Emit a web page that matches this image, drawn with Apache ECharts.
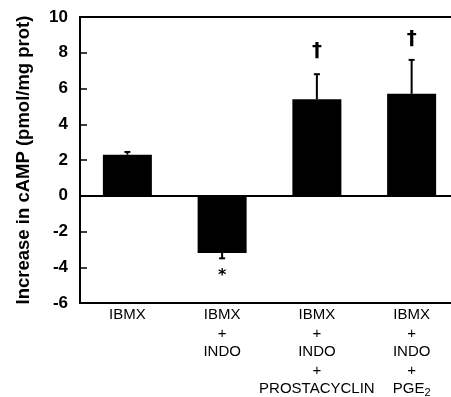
<!DOCTYPE html>
<html>
<head>
    <meta charset="utf-8">
    <script src="https://cdn.jsdelivr.net/npm/echarts@6/dist/echarts.min.js"></script>
</head>
<body style="margin:0;background:#fff">
    <div id="container" style="width:451px;height:397px"></div>
    <script type="text/javascript">
        // categories and values
        var categories = ['IBMX', 'IBMX+INDO', 'IBMX+INDO+PROSTACYCLIN', 'IBMX+INDO+PGE2'];
        var categoryLabels = [
            'IBMX',
            'IBMX\n+\nINDO',
            'IBMX\n+\nINDO\n+\nPROSTACYCLIN',
            'IBMX\n+\nINDO\n+\n{t|PGE}{s|2}'
        ];
        var meanValues = [2.3, -3.2, 5.4, 5.7];
        var errorEnds = [2.45, -3.5, 6.8, 7.6];
        var markCategory = [1, 2, 3];
        var markValue = [-4.5, 8.1, 8.8];
        var markText = ['*', '†', '†'];
        var yTicks = [-6, -4, -2, 0, 2, 4, 6, 8, 10];

        var dom = document.getElementById("container");
        var myChart = echarts.init(dom);

        var errorData = meanValues.map(function (v, i) { return [i, v, errorEnds[i]]; });
        var markData = markCategory.map(function (c, i) { return [c, markValue[i], markText[i]]; });

        var option = {
            animation: false,
            grid: { left: 80, width: 379, top: 17, height: 286, outerBoundsMode: 'none', containLabel: false },
            xAxis: [{
                type: 'category',
                data: categories,
                axisLine: { onZero: false, lineStyle: { color: '#000', width: 2 } },
                axisTick: { show: false },
                axisLabel: {
                    interval: 0,
                    margin: 3,
                    color: '#000',
                    fontFamily: 'Liberation Sans',
                    fontSize: 15,
                    lineHeight: 18.5,
                    formatter: function (v, i) { return categoryLabels[i]; },
                    rich: {
                        t: { fontFamily: 'Liberation Sans', fontSize: 15, color: '#000', lineHeight: 18.5 },
                        s: { fontFamily: 'Liberation Sans', fontSize: 11, color: '#000', padding: [8, 0, 0, 0], lineHeight: 18.5 }
                    }
                }
            }, {
                type: 'category',
                position: 'top',
                data: categories,
                axisLine: { show: true, onZero: false, lineStyle: { color: '#000', width: 2 } },
                axisTick: { show: false },
                axisLabel: { show: false }
            }],
            yAxis: {
                type: 'value',
                min: -6,
                max: 10,
                interval: 2,
                name: 'Increase in cAMP (pmol/mg prot)',
                nameLocation: 'middle',
                nameGap: 47,
                nameTextStyle: { color: '#000', fontFamily: 'Liberation Sans', fontWeight: 'bold', fontSize: 18.5 },
                axisLine: { show: true, lineStyle: { color: '#000', width: 2 } },
                axisTick: { show: true, inside: true, length: 7, lineStyle: { color: '#000', width: 1.5 } },
                splitLine: { show: false },
                axisLabel: {
                    color: '#000', fontFamily: 'Liberation Sans', fontWeight: 'bold', fontSize: 17, margin: 12,
                    formatter: function (v) { return yTicks.indexOf(v) >= 0 ? String(v) : ''; }
                }
            },
            series: [{
                type: 'bar',
                data: meanValues,
                barWidth: 49,
                itemStyle: { color: '#000' },
                markLine: {
                    silent: true,
                    symbol: 'none',
                    label: { show: false },
                    lineStyle: { color: '#000', width: 2, type: 'solid' },
                    data: [{ yAxis: 0 }]
                }
            }, {
                type: 'custom',
                data: errorData,
                renderItem: function (params, api) {
                    var p0 = api.coord([api.value(0), api.value(1)]);
                    var p1 = api.coord([api.value(0), api.value(2)]);
                    return {
                        type: 'group',
                        children: [{
                            type: 'line',
                            shape: { x1: p0[0], y1: p0[1], x2: p1[0], y2: p1[1] },
                            style: { stroke: '#000', lineWidth: 2 }
                        }, {
                            type: 'line',
                            shape: { x1: p1[0] - 3, y1: p1[1], x2: p1[0] + 3, y2: p1[1] },
                            style: { stroke: '#000', lineWidth: 2 }
                        }]
                    };
                },
                z: 3
            }, {
                type: 'custom',
                data: markData,
                renderItem: function (params, api) {
                    var p = api.coord([api.value(0), api.value(1)]);
                    return {
                        type: 'text',
                        x: p[0],
                        y: p[1],
                        style: {
                            text: markText[params.dataIndex],
                            x: 0, y: 0,
                            align: 'center',
                            verticalAlign: 'middle',
                            fill: '#000',
                            font: params.dataIndex === 0 ? 'bold 16px "DejaVu Sans"' : 'bold 20px "DejaVu Sans"'
                        }
                    };
                }
            }]
        };
        myChart.setOption(option);
    </script>
</body>
</html>
